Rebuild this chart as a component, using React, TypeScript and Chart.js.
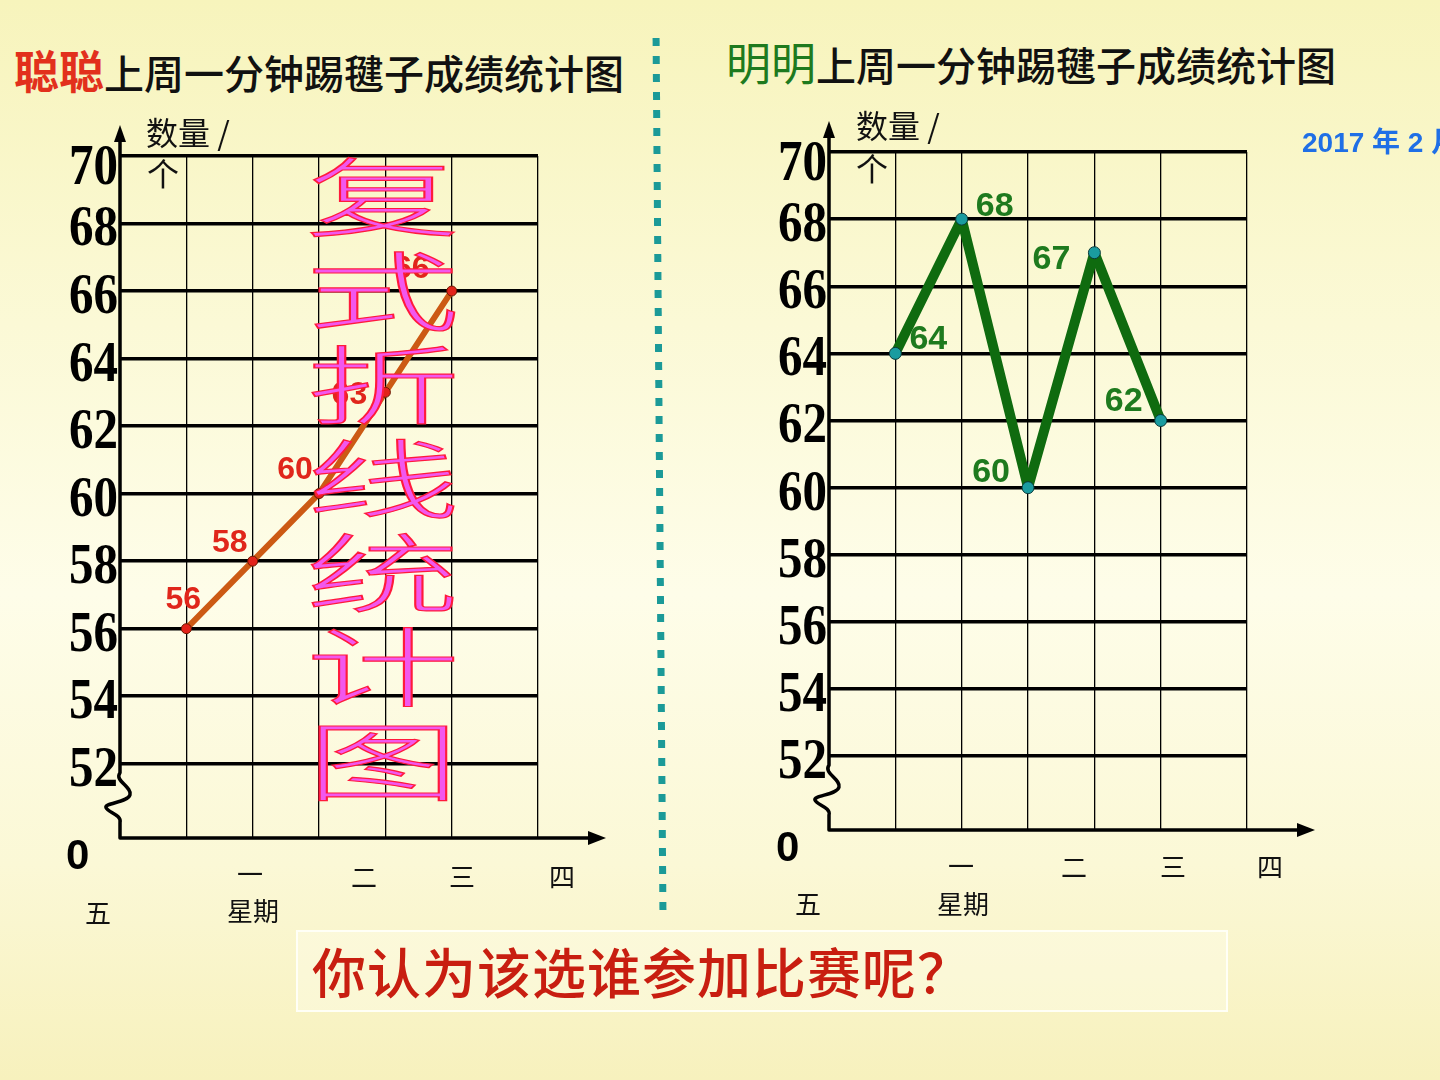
import React, { useEffect, useRef } from 'react';
import { Chart, registerables } from 'chart.js';

Chart.register(...registerables);

// ---- data ----
const days = ['一', '二', '三', '四', '五'];
const congValues = [56, 58, 60, 63, 66];
const mingValues = [64, 68, 60, 67, 62];
const yTicks = [52, 54, 56, 58, 60, 62, 64, 66, 68, 70];
const xTickLabels = ['一', '二', '三', '四'];
const titleText = '上周一分钟踢毽子成绩统计图';
const overlayText = ['复', '式', '折', '线', '统', '计', '图'];
const questionText = '你认为该选谁参加比赛呢？';
const dateText = '2017 年 2 月';

// label placement (pixel offsets from each point)
const congLabelOffsets = [[-3, -29], [-23, -18], [-24, -23], [-36, 3], [-40, -22]];
const mingLabelOffsets = [[33, -14], [33, -13], [-37, -15], [-43, 7], [-37, -19]];

const Y_MIN = 49.8;
const Y_MAX = 70;
const X_MIN = -1;
const X_MAX = 5.3;

function makePlugin(values: number[], offsets: number[][], labelColor: string, labelFont: string) {
  return {
    id: 'slideDecor',
    beforeDatasetsDraw(chart: any) {
      const { ctx, chartArea: ca, scales } = chart;
      const y = scales.y;
      ctx.save();
      // y tick labels (stretched serif numbers)
      ctx.fillStyle = '#000';
      ctx.font = 'bold 49px "Liberation Serif"';
      ctx.textAlign = 'right';
      ctx.textBaseline = 'middle';
      yTicks.forEach((v) => {
        const py = y.getPixelForValue(v) + (v === 70 ? 13 : 7);
        ctx.save();
        ctx.translate(ca.left - 2, py);
        ctx.scale(1, 1.18);
        ctx.fillText(String(v), 0, 0);
        ctx.restore();
      });
      // axes with break
      const x0 = ca.left;
      const yb = ca.bottom;
      const b = y.getPixelForValue(52) + 9;
      const yTip = ca.top - 31;
      const xTip = ca.right + 68;
      ctx.strokeStyle = '#000';
      ctx.lineWidth = 3.5;
      ctx.lineJoin = 'round';
      ctx.beginPath();
      ctx.moveTo(x0, yTip + 12);
      ctx.lineTo(x0, b);
      ctx.bezierCurveTo(x0 - 6, b + 8, x0 + 12, b + 14, x0 + 10, b + 22);
      ctx.bezierCurveTo(x0 + 8, b + 30, x0 - 16, b + 30, x0 - 14, b + 35);
      ctx.bezierCurveTo(x0 - 12, b + 40, x0 + 2, b + 42, x0, b + 50);
      ctx.lineTo(x0, yb);
      ctx.lineTo(xTip - 12, yb);
      ctx.stroke();
      ctx.fillStyle = '#000';
      ctx.beginPath();
      ctx.moveTo(x0, yTip);
      ctx.lineTo(x0 - 6, yTip + 17);
      ctx.lineTo(x0 + 6, yTip + 17);
      ctx.closePath();
      ctx.fill();
      ctx.beginPath();
      ctx.moveTo(xTip, yb);
      ctx.lineTo(xTip - 18, yb - 7);
      ctx.lineTo(xTip - 18, yb + 7);
      ctx.closePath();
      ctx.fill();
      ctx.restore();
    },
    afterDatasetsDraw(chart: any) {
      const { ctx } = chart;
      const meta = chart.getDatasetMeta(0);
      ctx.save();
      ctx.fillStyle = labelColor;
      ctx.font = labelFont;
      ctx.textAlign = 'center';
      ctx.textBaseline = 'middle';
      meta.data.forEach((pt: any, i: number) => {
        ctx.fillText(String(values[i]), pt.x + offsets[i][0], pt.y + offsets[i][1]);
      });
      ctx.restore();
    },
  };
}

function buildConfig(
  values: number[],
  lineColor: string,
  lineWidth: number,
  pointFill: string,
  pointStroke: string,
  pointRadius: number,
  padding: { left: number; right: number; top: number; bottom: number },
  plugin: any
): any {
  return {
    type: 'line',
    data: {
      labels: days,
      datasets: [
        {
          data: values.map((v, i) => ({ x: i, y: v })),
          borderColor: lineColor,
          borderWidth: lineWidth,
          borderJoinStyle: 'round',
          borderCapStyle: 'round',
          pointBackgroundColor: pointFill,
          pointBorderColor: pointStroke,
          pointBorderWidth: 1,
          pointRadius,
          tension: 0,
          clip: false,
        },
      ],
    },
    options: {
      responsive: false,
      animation: false,
      devicePixelRatio: 1,
      layout: { padding },
      plugins: { legend: { display: false }, tooltip: { enabled: false }, title: { display: false } },
      scales: {
        x: {
          type: 'linear',
          min: X_MIN,
          max: X_MAX,
          afterBuildTicks: (s: any) => {
            s.ticks = [0, 1, 2, 3, 4, X_MAX].map((v) => ({ value: v }));
          },
          afterFit: (s: any) => {
            s.height = 0;
          },
          ticks: { display: false },
          grid: { color: '#000', lineWidth: 1.3, drawTicks: false },
          border: { display: false },
        },
        y: {
          type: 'linear',
          min: Y_MIN,
          max: Y_MAX,
          afterBuildTicks: (s: any) => {
            s.ticks = yTicks.map((v) => ({ value: v }));
          },
          afterFit: (s: any) => {
            s.width = 120;
          },
          ticks: { display: false },
          grid: { color: '#000', lineWidth: 3.5, drawTicks: false },
          border: { display: false },
        },
      },
    },
    plugins: [plugin],
  };
}

const abs = (extra: React.CSSProperties): React.CSSProperties => ({
  position: 'absolute',
  whiteSpace: 'nowrap',
  ...extra,
});

function Label({ x, y, text, size = 26 }: { x: number; y: number; text: string; size?: number }) {
  return (
    <div
      style={abs({
        left: x,
        top: y,
        transform: 'translate(-50%, -50%)',
        fontSize: size,
        lineHeight: '30px',
        color: '#111',
      })}
    >
      {text}
    </div>
  );
}

export default function App() {
  const leftRef = useRef<HTMLCanvasElement>(null);
  const rightRef = useRef<HTMLCanvasElement>(null);

  useEffect(() => {
    const left = new Chart(
      leftRef.current as HTMLCanvasElement,
      buildConfig(
        congValues,
        '#CC5A14',
        6,
        '#E2231A',
        '#6a1a00',
        5,
        { left: 0, right: 902, top: 156, bottom: 242 },
        makePlugin(congValues, congLabelOffsets, '#E0261B', 'bold 32px "Liberation Sans"')
      )
    );
    const right = new Chart(
      rightRef.current as HTMLCanvasElement,
      buildConfig(
        mingValues,
        '#0F6B0F',
        10,
        '#1A9CA0',
        '#0a3a3a',
        6,
        { left: 709, right: 193, top: 152, bottom: 250 },
        makePlugin(mingValues, mingLabelOffsets, '#1E7A1E', 'bold 34px "Liberation Sans"')
      )
    );
    return () => {
      left.destroy();
      right.destroy();
    };
  }, []);

  const leftX = [
    { x: 250, y: 873, t: xTickLabels[0] },
    { x: 364, y: 876, t: xTickLabels[1] },
    { x: 462, y: 876, t: xTickLabels[2] },
    { x: 562, y: 876, t: xTickLabels[3] },
    { x: 98, y: 912, t: days[4] },
    { x: 253, y: 910, t: '星期' },
  ];
  const rightX = [
    { x: 961, y: 865, t: xTickLabels[0] },
    { x: 1074, y: 866, t: xTickLabels[1] },
    { x: 1173, y: 866, t: xTickLabels[2] },
    { x: 1270, y: 866, t: xTickLabels[3] },
    { x: 808, y: 903, t: days[4] },
    { x: 963, y: 903, t: '星期' },
  ];

  return (
    <div
      style={{
        position: 'absolute',
        left: 0,
        top: 0,
        width: 1440,
        height: 1080,
        overflow: 'hidden',
        background:
          'linear-gradient(to bottom, #F7F4BC 0%, #FBF9D6 30%, #FEFDE9 55%, #FBF8D6 80%, #F7F1BD 100%)',
        fontFamily: '"Noto Sans CJK SC", sans-serif',
      }}
    >
      {/* titles */}
      <div style={abs({ left: 14, top: 47, fontSize: 40, lineHeight: '46px', color: '#111', fontWeight: 500 })}>
        <span style={{ color: '#E2301C', fontWeight: 700, fontSize: 45 }}>聪聪</span>
        <span>{titleText}</span>
      </div>
      <div style={abs({ left: 726, top: 39, fontSize: 40, lineHeight: '46px', color: '#111', fontWeight: 500 })}>
        <span style={{ color: '#1E7A1E', fontSize: 45, fontWeight: 400 }}>明明</span>
        <span>{titleText}</span>
      </div>

      {/* divider */}
      <div
        style={abs({
          left: 656,
          top: 38,
          width: 7,
          height: 872,
          background:
            'repeating-linear-gradient(to bottom, #1B9A98 0px, #1B9A98 8px, transparent 8px, transparent 18px)',
          transform: 'rotate(-0.45deg)',
        })}
      />

      <canvas ref={leftRef} width={1440} height={1080} style={{ position: 'absolute', left: 0, top: 0 }} />
      <canvas ref={rightRef} width={1440} height={1080} style={{ position: 'absolute', left: 0, top: 0 }} />

      {/* axis titles */}
      <div style={abs({ left: 146, top: 112, fontSize: 32, lineHeight: '38px', color: '#111' })}>数量 /</div>
      <div style={abs({ left: 147, top: 153, fontSize: 32, lineHeight: '38px', color: '#111' })}>个</div>
      <div style={abs({ left: 856, top: 105, fontSize: 32, lineHeight: '38px', color: '#111' })}>数量 /</div>
      <div style={abs({ left: 856, top: 148, fontSize: 32, lineHeight: '38px', color: '#111' })}>个</div>

      {/* zero labels */}
      <div style={abs({ left: 66, top: 833, fontSize: 42, lineHeight: '44px', fontWeight: 700, fontFamily: '"Liberation Sans"', color: '#000' })}>0</div>
      <div style={abs({ left: 776, top: 825, fontSize: 42, lineHeight: '44px', fontWeight: 700, fontFamily: '"Liberation Sans"', color: '#000' })}>0</div>

      {leftX.map((l, i) => (
        <Label key={'l' + i} x={l.x} y={l.y} text={l.t} />
      ))}
      {rightX.map((l, i) => (
        <Label key={'r' + i} x={l.x} y={l.y} text={l.t} />
      ))}

      {/* date */}
      <div style={abs({ left: 1302, top: 125, fontSize: 28, lineHeight: '36px', fontWeight: 700, fontFamily: '"Liberation Sans", "Noto Sans CJK SC"', color: '#1F6FE6' })}>
        {dateText}
      </div>

      {/* big overlay text */}
      <div style={abs({ left: 333, top: 146, width: 100 })}>
        {overlayText.map((c, i) => (
          <div
            key={i}
            style={{
              height: 94,
              lineHeight: '94px',
              fontSize: 86,
              fontWeight: 300,
              textAlign: 'center',
              color: '#F257EE',
              WebkitTextStroke: '1.2px #FF1A3C',
              transform: 'scaleX(1.8)',
            }}
          >
            {c}
          </div>
        ))}
      </div>

      {/* question box */}
      <div
        style={abs({
          left: 296,
          top: 930,
          width: 932,
          height: 82,
          boxSizing: 'border-box',
          border: '2px solid rgba(255,255,250,0.9)',
          background: 'rgba(255,255,240,0.35)',
          paddingLeft: 14,
          fontSize: 54,
          lineHeight: '78px',
          letterSpacing: 1,
          color: '#C81E10',
          fontWeight: 500,
        })}
      >
        {questionText}
      </div>
    </div>
  );
}
